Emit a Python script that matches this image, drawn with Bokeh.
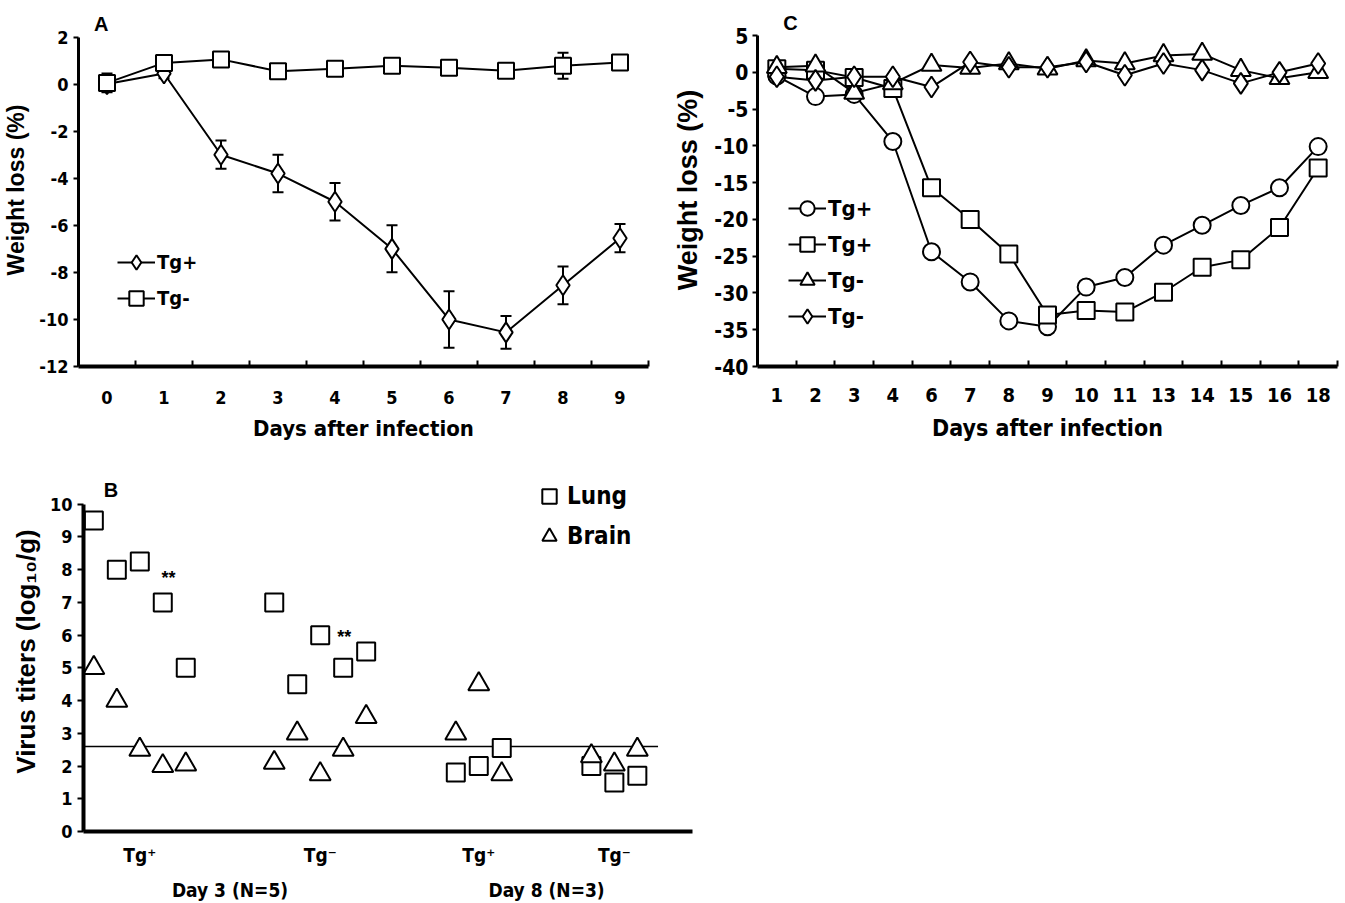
from bokeh.plotting import figure
from bokeh.models import (Range1d, FixedTicker, Legend, LegendItem, Whisker,
                          ColumnDataSource, Label, LinearAxis, TeeHead)
from bokeh.layouts import column, row
from bokeh.embed import file_html
from bokeh.resources import INLINE

NARROW = "Liberation Sans Narrow, DejaVu Sans Condensed, Liberation Sans, sans-serif"
WIDE = "Liberation Sans"

# ---------------- Panel A data ----------------
a_days = [0, 1, 2, 3, 4, 5, 6, 7, 8, 9]
a_tgpos = [0.0, 0.45, -3.0, -3.8, -5.0, -7.0, -10.0, -10.55, -8.55, -6.55]
a_tgpos_err = [0.3, 0.2, 0.6, 0.8, 0.8, 1.0, 1.2, 0.7, 0.8, 0.6]
a_tgneg = [0.05, 0.9, 1.05, 0.55, 0.65, 0.78, 0.7, 0.57, 0.78, 0.92]
a_tgneg_err = [0.4, 0.2, 0.2, 0.15, 0.2, 0.3, 0.2, 0.2, 0.55, 0.2]
a_yticks = [2, 0, -2, -4, -6, -8, -10, -12]

# ---------------- Panel C data ----------------
c_days = ["1", "2", "3", "4", "6", "7", "8", "9", "10", "11", "13", "14", "15", "16", "18"]
c_tgpos_circle = [-0.5, -3.3, -3.0, -9.4, -24.4, -28.5, -33.8, -34.6, -29.2, -27.9, -23.5, -20.8, -18.1, -15.7, -10.1]
c_tgpos_square = [0.5, 0.3, -0.7, -2.2, -15.7, -20.0, -24.7, -33.0, -32.4, -32.6, -29.9, -26.5, -25.5, -21.1, -13.0]
c_tgneg_triangle = [0.7, 0.9, -2.8, -1.5, 1.0, 0.6, 1.2, 0.5, 1.6, 1.2, 2.3, 2.5, 0.3, -0.8, 0.0]
c_tgneg_diamond = [-0.6, -1.1, -0.6, -0.6, -2.0, 1.4, 0.7, 0.7, 1.4, -0.4, 1.2, 0.3, -1.5, 0.0, 1.2]
c_yticks = [5, 0, -5, -10, -15, -20, -25, -30, -35, -40]

# ---------------- Panel B data ----------------
b_groups = ["Tg\u207a", "Tg\u207b", "Tg\u207a", "Tg\u207b"]
b_days = ["Day 3 (N=5)", "Day 8 (N=3)"]
b_lung = [[9.5, 8.0, 8.25, 7.0, 5.0], [7.0, 4.5, 6.0, 5.0, 5.5], [1.8, 2.0, 2.55], [2.0, 1.5, 1.7]]
b_brain = [[5.0, 4.0, 2.5, 2.0, 2.05], [2.1, 3.0, 1.75, 2.5, 3.5], [3.0, 4.5, 1.75], [2.3, 2.05, 2.5]]
b_limit = 2.6
b_yticks = [0, 1, 2, 3, 4, 5, 6, 7, 8, 9, 10]

# layout constants for panel B (slot positions of the group centres)
b_group_center = [2.45, 10.3, 17.2, 23.1]


def style_axis(ax, font_size, line_width):
    ax.axis_line_width = line_width
    ax.axis_line_color = "black"
    ax.major_label_text_font = NARROW
    ax.major_label_text_font_size = font_size
    ax.major_label_text_font_style = "bold"
    ax.major_label_text_color = "black"
    ax.axis_label_text_color = "black"
    ax.axis_label_text_font_style = "bold"
    ax.major_tick_line_color = "black"
    ax.minor_tick_line_color = "black"


def base_fig(w, h, xr, yr, bl, br, bt, bb):
    p = figure(width=w, height=h, x_range=xr, y_range=yr, output_backend="svg",
               toolbar_location=None, min_border_left=bl, min_border_right=br,
               min_border_top=bt, min_border_bottom=bb)
    p.outline_line_color = None
    p.xgrid.visible = False
    p.ygrid.visible = False
    p.background_fill_color = "white"
    return p


def make_legend(items, loc, gw, gh, sp, fs, standoff):
    return Legend(items=items, location=loc, glyph_width=gw, glyph_height=gh, spacing=sp,
                  padding=0, margin=0, label_standoff=standoff, background_fill_alpha=0,
                  border_line_color=None, label_text_font=NARROW,
                  label_text_font_size=fs, label_text_font_style="bold",
                  label_text_color="black", label_height=gh)


def panel_label(p, x, y, text, size):
    p.add_layout(Label(x=x, y=y, text=text, text_font=WIDE, text_font_size=size,
                       text_font_style="bold", text_color="black",
                       text_align="center", text_baseline="middle"))


# =============== Panel A ===============
pA = base_fig(670, 465, Range1d(-0.5, 9.5), Range1d(-12, 3.0), 73, 22, 12, 99)
xa = pA.xaxis[0]
xa.ticker = FixedTicker(ticks=a_days, minor_ticks=[d - 0.5 for d in a_days] + [a_days[-1] + 0.5])
xa.major_label_overrides = {d: str(d) for d in a_days}
style_axis(xa, "18px", 4)
xa.major_tick_in = 0
xa.major_tick_out = 0
xa.minor_tick_in = 6
xa.minor_tick_out = 0
xa.minor_tick_line_width = 2
xa.major_label_standoff = 24
xa.axis_label = "Days after infection"
xa.axis_label_text_font = NARROW
xa.axis_label_text_font_size = "22px"
xa.axis_label_standoff = 9

ya = pA.yaxis[0]
ya.ticker = FixedTicker(ticks=a_yticks)
ya.major_label_overrides = {t: str(t) for t in a_yticks}
ya.bounds = (a_yticks[-1], a_yticks[0])
style_axis(ya, "18px", 3)
ya.major_tick_in = 0
ya.major_tick_out = 5
ya.major_tick_line_width = 2
ya.minor_tick_line_color = None
ya.major_label_standoff = 5
ya.axis_label = "Weight loss (%)"
ya.axis_label_text_font = WIDE
ya.axis_label_text_font_size = "23px"
ya.axis_label_standoff = 7

srcA = ColumnDataSource(dict(
    day=a_days, pos=a_tgpos, neg=a_tgneg,
    pos_lo=[v - e for v, e in zip(a_tgpos, a_tgpos_err)],
    pos_hi=[v + e for v, e in zip(a_tgpos, a_tgpos_err)],
    neg_lo=[v - e for v, e in zip(a_tgneg, a_tgneg_err)],
    neg_hi=[v + e for v, e in zip(a_tgneg, a_tgneg_err)],
))
for lo, hi in (("pos_lo", "pos_hi"), ("neg_lo", "neg_hi")):
    wk = Whisker(base="day", lower=lo, upper=hi, source=srcA, line_width=2, line_color="black",
                 upper_head=TeeHead(size=11, line_width=2, line_color="black"),
                 lower_head=TeeHead(size=11, line_width=2, line_color="black"),
                 level="underlay")
    pA.add_layout(wk)

lA1 = pA.line("day", "pos", source=srcA, line_color="black", line_width=2)
lA2 = pA.line("day", "neg", source=srcA, line_color="black", line_width=2)
sA1 = pA.scatter("day", "pos", source=srcA, marker="diamond", size=20,
                 fill_color="white", line_color="black", line_width=2)
sA2 = pA.scatter("day", "neg", source=srcA, marker="square", size=16,
                 fill_color="white", line_color="black", line_width=2)

legA = make_legend([LegendItem(label="Tg+", renderers=[lA1, sA1]),
                    LegendItem(label="Tg-", renderers=[lA2, sA2])],
                   (39, 50), 38, 36, 0, "20px", 2)
pA.add_layout(legA)
panel_label(pA, -0.1, 2.55, "A", "20px")

# =============== Panel C ===============
nC = len(c_days)
pC = base_fig(675, 465, Range1d(-0.5, nC - 0.5), Range1d(-40, 8), 82, 8, 13, 97)
xc = pC.xaxis[0]
xc.ticker = FixedTicker(ticks=list(range(nC)), minor_ticks=[i - 0.5 for i in range(nC + 1)])
xc.major_label_overrides = {i: d for i, d in enumerate(c_days)}
style_axis(xc, "20px", 4)
xc.major_tick_in = 0
xc.major_tick_out = 0
xc.minor_tick_in = 6
xc.minor_tick_out = 0
xc.minor_tick_line_width = 2
xc.major_label_standoff = 21
xc.axis_label = "Days after infection"
xc.axis_label_text_font = NARROW
xc.axis_label_text_font_size = "23px"
xc.axis_label_standoff = 10

yc = pC.yaxis[0]
yc.ticker = FixedTicker(ticks=c_yticks)
yc.major_label_overrides = {t: str(t) for t in c_yticks}
yc.bounds = (c_yticks[-1], c_yticks[0])
style_axis(yc, "21px", 3)
yc.major_tick_in = 0
yc.major_tick_out = 5
yc.major_tick_line_width = 2
yc.minor_tick_line_color = None
yc.major_label_standoff = 4
yc.axis_label = "Weight loss (%)"
yc.axis_label_text_font = WIDE
yc.axis_label_text_font_size = "27px"
yc.axis_label_standoff = 8

srcC = ColumnDataSource(dict(x=list(range(nC)), circ=c_tgpos_circle, sq=c_tgpos_square,
                             tri=c_tgneg_triangle, dia=c_tgneg_diamond))
itemsC = []
for col, mk, sz, lab in (("circ", "circle", 17, "Tg+"), ("sq", "square", 17, "Tg+"),
                         ("tri", "triangle", 20, "Tg-"), ("dia", "diamond", 21, "Tg-")):
    ln = pC.line("x", col, source=srcC, line_color="black", line_width=2)
    sc = pC.scatter("x", col, source=srcC, marker=mk, size=sz, fill_color="white",
                    line_color="black", line_width=2)
    itemsC.append(LegendItem(label=lab, renderers=[ln, sc]))
legC = make_legend(itemsC, (31, 32), 38, 36, 0, "22px", 2)
pC.add_layout(legC)
panel_label(pC, 0.35, 6.7, "C", "20px")

# =============== Panel B ===============
pB = base_fig(700, 438, Range1d(0, 26.5), Range1d(0, 11), 83, 8, 6, 71)

lung_x, lung_y, brain_x, brain_y = [], [], [], []
for c, vals in zip(b_group_center, b_lung):
    n = len(vals)
    lung_x += [c + i - (n - 1) / 2 for i in range(n)]
    lung_y += vals
for c, vals in zip(b_group_center, b_brain):
    n = len(vals)
    brain_x += [c + i - (n - 1) / 2 for i in range(n)]
    brain_y += vals

pB.line([0, 25.0], [b_limit, b_limit], line_color="black", line_width=1.5)
sB1 = pB.scatter(lung_x, lung_y, marker="square", size=18, fill_color="white",
                 line_color="black", line_width=2)
sB2 = pB.scatter(brain_x, brain_y, marker="triangle", size=21, fill_color="white",
                 line_color="black", line_width=2)

xb = pB.xaxis[0]
xb.ticker = FixedTicker(ticks=b_group_center)
xb.major_label_overrides = {c: g for c, g in zip(b_group_center, b_groups)}
style_axis(xb, "19px", 4)
xb.major_tick_line_color = None
xb.minor_tick_line_color = None
xb.major_label_standoff = 6

day_pos = [(b_group_center[0] + b_group_center[1]) / 2, (b_group_center[2] + b_group_center[3]) / 2]
xb2 = LinearAxis(ticker=FixedTicker(ticks=day_pos),
                 major_label_overrides={p_: d for p_, d in zip(day_pos, b_days)})
style_axis(xb2, "19px", 0)
xb2.axis_line_color = None
xb2.major_tick_line_color = None
xb2.minor_tick_line_color = None
xb2.major_label_standoff = 4
pB.add_layout(xb2, "below")

yb = pB.yaxis[0]
yb.ticker = FixedTicker(ticks=b_yticks)
yb.major_label_overrides = {t: str(t) for t in b_yticks}
yb.bounds = (b_yticks[0], b_yticks[-1])
style_axis(yb, "18px", 4)
yb.major_tick_in = 0
yb.major_tick_out = 6
yb.major_tick_line_width = 2
yb.minor_tick_line_color = None
yb.major_label_standoff = 5
yb.axis_label = "Virus titers (log\u2081\u2080/g)"
yb.axis_label_text_font = WIDE
yb.axis_label_text_font_size = "26px"
yb.axis_label_standoff = 6

legB = make_legend([LegendItem(label="Lung", renderers=[sB1]),
                    LegendItem(label="Brain", renderers=[sB2])],
                   (448, 277), 36, 36, 4, "24px", 0)
pB.add_layout(legB)
panel_label(pB, 1.2, 10.45, "B", "20px")
for sx, sy in ((3.7, 7.74), (11.35, 5.95)):
    panel_label(pB, sx, sy, "**", "18px")

layout = column(row(pA, pC), pB)
open("out.html", "w").write(file_html(layout, INLINE))
